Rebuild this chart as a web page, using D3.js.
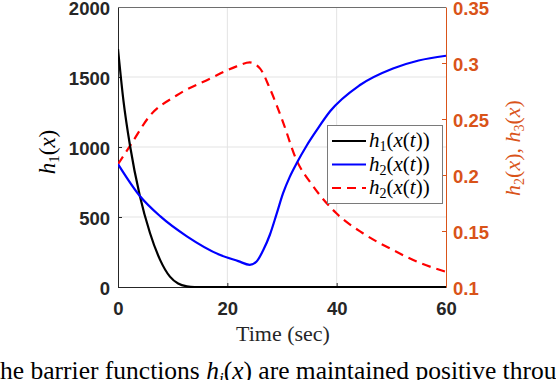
<!DOCTYPE html>
<html><head><meta charset="utf-8">
<script src="https://cdn.jsdelivr.net/npm/d3@7"></script>
<style>
html,body{margin:0;padding:0;background:#fff;}
svg{display:block;}
</style></head>
<body>
<svg id="chart" width="556" height="380"></svg>
<script>
// ---- data ----
const xTicks = [0, 20, 40, 60];
const yLeftTicks = [0, 500, 1000, 1500, 2000];
const yRightTicks = [0.1, 0.15, 0.2, 0.25, 0.3, 0.35];
const yRightLabels = ["0.1", "0.15", "0.2", "0.25", "0.3", "0.35"];

const tH1 = [0, 1, 2.2, 4, 5.85, 7.7, 9.5, 11, 12.6, 14, 20, 30, 40, 50, 60];
const h1 = [1700, 1330, 1009, 650, 386, 194, 74, 25, 5, 0, 0, 0, 0, 0, 0];

const tH2 = [0, 4, 7.7, 12.6, 18.6, 22, 24.1, 25.35, 26.6, 27.8, 29.0, 30.2, 31.4, 32.7, 34.5, 36.3, 38.8, 44.2, 50.3, 55, 60];
const h2 = [878, 650, 506, 362, 230, 185, 158, 182, 266, 375, 520, 670, 785, 885, 1009, 1117, 1255, 1441, 1561, 1618, 1652];

const tH3 = [0, 2.2, 5.85, 10.7, 16.8, 21.7, 24.1, 26, 27.8, 30.2, 32.6, 35.7, 39.9, 44.8, 50.3, 55, 60];
const h3 = [0.2097, 0.226, 0.253, 0.271, 0.286, 0.297, 0.3005, 0.295, 0.277, 0.247, 0.214, 0.190, 0.166, 0.148, 0.133, 0.122, 0.1135];

const legendLabels = [["h","1"], ["h","2"], ["h","2"]];
const legendColors = ["#000000", "#0000ff", "#ff0000"];
const legendDash = [null, null, "9,6"];

// ---- layout ----
const svg = d3.select("#chart");
const L = 118, R = 446, T = 7, B = 287;
const x = d3.scaleLinear().domain([0, 60]).range([L, R]);
const yL = d3.scaleLinear().domain([0, 2000]).range([B, T]);
const yR = d3.scaleLinear().domain([0.1, 0.35]).range([B, T]);
const axisColor = "#262626";
const orange = "#D95319";
const sans = "'Liberation Sans', Arial, Helvetica, sans-serif";
const serif = "'Liberation Serif', 'Times New Roman', serif";

// grid
svg.append("g").selectAll("line").data(xTicks.slice(1, -1)).join("line")
  .attr("x1", d => x(d)).attr("x2", d => x(d)).attr("y1", T).attr("y2", B)
  .attr("stroke", "#e3e3e3").attr("stroke-width", 1);
svg.append("g").selectAll("line").data(yLeftTicks.slice(1, -1)).join("line")
  .attr("x1", L).attr("x2", R).attr("y1", d => yL(d)).attr("y2", d => yL(d))
  .attr("stroke", "#e3e3e3").attr("stroke-width", 1);

// axes
const gx = svg.append("g").attr("transform", `translate(0,${B})`)
  .call(d3.axisBottom(x).tickValues(xTicks).tickFormat(d3.format("d")).tickSizeInner(-4).tickSizeOuter(0).tickPadding(10));
const gyl = svg.append("g").attr("transform", `translate(${L},0)`)
  .call(d3.axisLeft(yL).tickValues(yLeftTicks).tickFormat(d3.format("d")).tickSizeInner(-4).tickSizeOuter(0).tickPadding(8));
const gyr = svg.append("g").attr("transform", `translate(${R},0)`)
  .call(d3.axisRight(yR).tickValues(yRightTicks).tickFormat((d, i) => yRightLabels[i]).tickSizeInner(-4).tickSizeOuter(0).tickPadding(7));
[gx, gyl].forEach(g => {
  g.select(".domain").attr("stroke", axisColor).attr("stroke-width", 1);
  g.selectAll(".tick line").attr("stroke", axisColor);
  g.selectAll(".tick text").attr("fill", axisColor).attr("font-family", sans)
    .attr("font-weight", "bold").attr("font-size", 18.5);
});
gx.selectAll(".tick text").attr("dy", "0.71em").attr("y", 15);
gyl.selectAll(".tick text").attr("dy", "0.42em");
gyr.select(".domain").attr("stroke", orange).attr("stroke-width", 1);
gyr.selectAll(".tick line").attr("stroke", orange);
gyr.selectAll(".tick text").attr("fill", orange).attr("font-family", sans)
  .attr("font-weight", "bold").attr("font-size", 18.5).attr("dy", "0.42em");
// top border
svg.append("line").attr("x1", L).attr("x2", R).attr("y1", T + 0.5).attr("y2", T + 0.5)
  .attr("stroke", "#6e6e6e").attr("stroke-width", 1);

// lines
svg.append("clipPath").attr("id", "clip").append("rect")
  .attr("x", L).attr("y", T - 2).attr("width", R - L + 2).attr("height", B - T + 4);
const plot = svg.append("g").attr("clip-path", "url(#clip)");
const lineL = d3.line().x(d => x(d[0])).y(d => yL(d[1])).curve(d3.curveMonotoneX);
const lineR = d3.line().x(d => x(d[0])).y(d => yR(d[1])).curve(d3.curveMonotoneX);
plot.append("path").datum(tH3.map((t, i) => [t, h3[i]])).attr("d", lineR)
  .attr("fill", "none").attr("stroke", "#ff0000").attr("stroke-width", 2.2).attr("stroke-dasharray", "9,6");
plot.append("path").datum(tH1.map((t, i) => [t, h1[i]])).attr("d", lineL)
  .attr("fill", "none").attr("stroke", "#000").attr("stroke-width", 2.2);
plot.append("path").datum(tH2.map((t, i) => [t, h2[i]])).attr("d", lineL)
  .attr("fill", "none").attr("stroke", "#0000ff").attr("stroke-width", 2.2);

// legend
const lg = svg.append("g");
lg.append("rect").attr("x", 327.5).attr("y", 125.5).attr("width", 115).attr("height", 78)
  .attr("fill", "#fff").attr("stroke", "#7a7a7a").attr("stroke-width", 1);
legendLabels.forEach((lab, i) => {
  const yy = 141 + i * 23.5;
  const ln = lg.append("line").attr("x1", 332).attr("x2", 366).attr("y1", yy).attr("y2", yy)
    .attr("stroke", legendColors[i]).attr("stroke-width", 2.2);
  if (legendDash[i]) ln.attr("stroke-dasharray", legendDash[i]);
  const tx = lg.append("text").attr("x", 369).attr("y", yy + 6).attr("font-family", serif)
    .attr("font-size", 21).attr("fill", "#000");
  tx.append("tspan").attr("font-style", "italic").text(lab[0]);
  tx.append("tspan").attr("font-size", 14).attr("dy", 4).text(lab[1]);
  tx.append("tspan").attr("dy", -4).text("(");
  tx.append("tspan").attr("font-style", "italic").text("x");
  tx.append("tspan").text("(");
  tx.append("tspan").attr("font-style", "italic").text("t");
  tx.append("tspan").text("))");
});

// axis labels
svg.append("text").attr("x", 283).attr("y", 341).attr("text-anchor", "middle")
  .attr("font-family", serif).attr("font-size", 22).attr("fill", axisColor).text("Time (sec)");

const ylab = svg.append("text").attr("transform", "translate(55,152) rotate(-90)")
  .attr("text-anchor", "middle").attr("font-family", serif).attr("font-size", 23).attr("fill", "#000");
ylab.append("tspan").attr("font-style", "italic").text("h");
ylab.append("tspan").attr("font-size", 15).attr("dy", 4).text("1");
ylab.append("tspan").attr("dy", -4).text("(");
ylab.append("tspan").attr("font-style", "italic").text("x");
ylab.append("tspan").text(")");

const yrlab = svg.append("text").attr("transform", "translate(520,148) rotate(-90)")
  .attr("text-anchor", "middle").attr("font-family", serif).attr("font-size", 22).attr("fill", orange);
yrlab.append("tspan").attr("font-style", "italic").text("h");
yrlab.append("tspan").attr("font-size", 14).attr("dy", 4).text("2");
yrlab.append("tspan").attr("dy", -4).text("(");
yrlab.append("tspan").attr("font-style", "italic").text("x");
yrlab.append("tspan").text("), ");
yrlab.append("tspan").attr("font-style", "italic").text("h");
yrlab.append("tspan").attr("font-size", 14).attr("dy", 4).text("3");
yrlab.append("tspan").attr("dy", -4).text("(");
yrlab.append("tspan").attr("font-style", "italic").text("x");
yrlab.append("tspan").text(")");

// caption (cut off at bottom, as in the reference)
const cap = svg.append("text").attr("x", -7).attr("y", 379).attr("font-family", serif)
  .attr("font-size", 25.5).attr("fill", "#000");
cap.append("tspan").text("the barrier functions ");
cap.append("tspan").attr("font-style", "italic").text("h");
cap.append("tspan").attr("font-style", "italic").attr("font-size", 17).attr("dy", 5).text("i");
cap.append("tspan").attr("dy", -5).text("(");
cap.append("tspan").attr("font-style", "italic").text("x");
cap.append("tspan").text(") are maintained positive throughout");
</script>
</body></html>
